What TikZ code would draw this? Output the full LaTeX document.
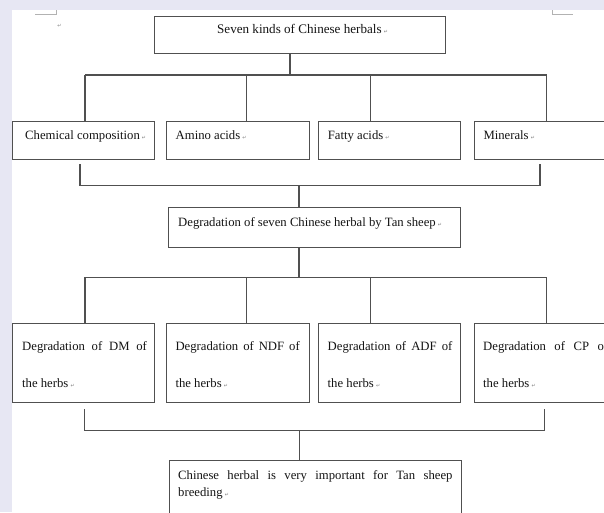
\documentclass[tikz,border=0pt]{standalone}
\usepackage{fontspec}
\setmainfont{Liberation Serif}
\newfontfamily\symfont{DejaVu Sans}
\definecolor{bg}{RGB}{231,231,243}
\definecolor{ln}{RGB}{80,80,80}
\definecolor{tx}{RGB}{20,20,20}
\newcommand{\parmark}{\,{\symfont\fontsize{5}{5}\selectfont\color{gray}↵}}
\begin{document}
\begin{tikzpicture}[x=1pt,y=-1pt,
  box/.style={draw=ln, line width=1.1pt, rectangle, inner sep=0pt, anchor=north west},
  conn/.style={draw=ln, line width=1.1pt},
  lbl/.style={anchor=base west, inner sep=0pt, text=tx, font=\fontsize{12.7}{15}\selectfont},
  corner/.style={draw=gray!60, line width=0.6pt}]
\useasboundingbox (0,0) rectangle (604,512);
\clip (0,0) rectangle (604,512);
\fill[bg] (0,0) rectangle (604,512);
\fill[white] (12,10) rectangle (620,530);
% page corner marks
\draw[corner] (35,14) -- (56,14) -- (56,10);
\draw[corner] (552.7,10) -- (552.7,14) -- (573,14);
\node[inner sep=0pt] (pm0) at (59.5,25.5) {\symfont\fontsize{5}{5}\selectfont\color{gray}↵};

% boxes
\node[box, minimum width=291.3pt, minimum height=37pt] (top) at (154,15.7) {};
\node[box, minimum width=142pt, minimum height=38pt] (r1a) at (12.3,121) {};
\node[box, minimum width=142.4pt, minimum height=38pt] (r1b) at (166.3,121) {};
\node[box, minimum width=142pt, minimum height=38pt] (r1c) at (318.3,121) {};
\node[box, minimum width=142pt, minimum height=38pt] (r1d) at (474.3,121) {};
\node[box, minimum width=292pt, minimum height=39.7pt] (deg) at (168.3,207.3) {};
\node[box, minimum width=142pt, minimum height=78.2pt] (r2a) at (12.3,323.3) {};
\node[box, minimum width=142.4pt, minimum height=78.2pt] (r2b) at (166.3,323.3) {};
\node[box, minimum width=142pt, minimum height=78.2pt] (r2c) at (318.3,323.3) {};
\node[box, minimum width=142pt, minimum height=78.2pt] (r2d) at (474.3,323.3) {};
\node[box, minimum width=292.3pt, minimum height=70pt] (fin) at (168.7,460) {};

% texts
\node[lbl, font=\fontsize{13.1}{15}\selectfont] (ttop) at (217,33) {Seven kinds of Chinese herbals\parmark};
\node[lbl] (t1a) at (25,139) {Chemical composition\parmark};
\node[lbl] (t1b) at (175.5,139) {Amino acids\parmark};
\node[lbl] (t1c) at (327.7,139) {Fatty acids\parmark};
\node[lbl] (t1d) at (483.3,139) {Minerals\parmark};
\node[lbl] (tdeg) at (178,226) {Degradation of seven Chinese herbal by Tan sheep\parmark};
\node[lbl] (t2a) at (22,350.7) {\makebox[124.7pt][s]{Degradation of DM of}};
\node[lbl] (t2a2) at (22,387) {the herbs\parmark};
\node[lbl] (t2b) at (175.3,350.7) {\makebox[124.3pt][s]{Degradation of NDF of}};
\node[lbl] (t2b2) at (175.3,387) {the herbs\parmark};
\node[lbl] (t2c) at (327.5,350.7) {\makebox[124.7pt][s]{Degradation of ADF of}};
\node[lbl] (t2c2) at (327.5,387) {the herbs\parmark};
\node[lbl] (t2d) at (483,350.7) {\makebox[125pt][s]{Degradation of CP of}};
\node[lbl] (t2d2) at (483,387) {the herbs\parmark};
\node[lbl] (tfin) at (178,479) {\makebox[274.3pt][s]{Chinese herbal is very important for Tan sheep}};
\node[lbl] (tfin2) at (178,496) {breeding\parmark};

% top -> row 1
\coordinate (j1) at (290,75);
\coordinate (bL1) at (85,75);
\coordinate (b2) at (246.7,75);
\coordinate (b3) at (370.3,75);
\coordinate (bR1) at (546.7,75);
\draw[conn] (top.south -| j1) -- (j1);
\draw[conn] (bL1) -- (bR1);
\draw[conn] (bL1) -- (bL1 |- r1a.north);
\draw[conn] (b2) -- (b2 |- r1b.north);
\draw[conn] (b3) -- (b3 |- r1c.north);
\draw[conn] (bR1) -- (bR1 |- r1d.north);

% bracket 1 -> deg
\coordinate (k1s) at (80,164);
\coordinate (k1L) at (80,185.3);
\coordinate (k1R) at (540,185.3);
\coordinate (k1e) at (540,164);
\coordinate (k1m) at (299,185.3);
\draw[conn] (k1s) -- (k1L) -- (k1R) -- (k1e);
\draw[conn] (k1m) -- (k1m |- deg.north);

% deg -> row 2
\coordinate (j2) at (299,277.3);
\coordinate (cL2) at (85,277.3);
\coordinate (c2) at (246.7,277.3);
\coordinate (c3) at (370.3,277.3);
\coordinate (cR2) at (546.7,277.3);
\draw[conn] (deg.south -| j2) -- (j2);
\draw[conn] (cL2) -- (cR2);
\draw[conn] (cL2) -- (cL2 |- r2a.north);
\draw[conn] (c2) -- (c2 |- r2b.north);
\draw[conn] (c3) -- (c3 |- r2c.north);
\draw[conn] (cR2) -- (cR2 |- r2d.north);

% bracket 2 -> fin
\coordinate (k2s) at (84.3,409);
\coordinate (k2L) at (84.3,430.3);
\coordinate (k2R) at (544.3,430.3);
\coordinate (k2e) at (544.3,409);
\coordinate (k2m) at (299.3,430.3);
\draw[conn] (k2s) -- (k2L) -- (k2R) -- (k2e);
\draw[conn] (k2m) -- (k2m |- fin.north);
\end{tikzpicture}
\end{document}
